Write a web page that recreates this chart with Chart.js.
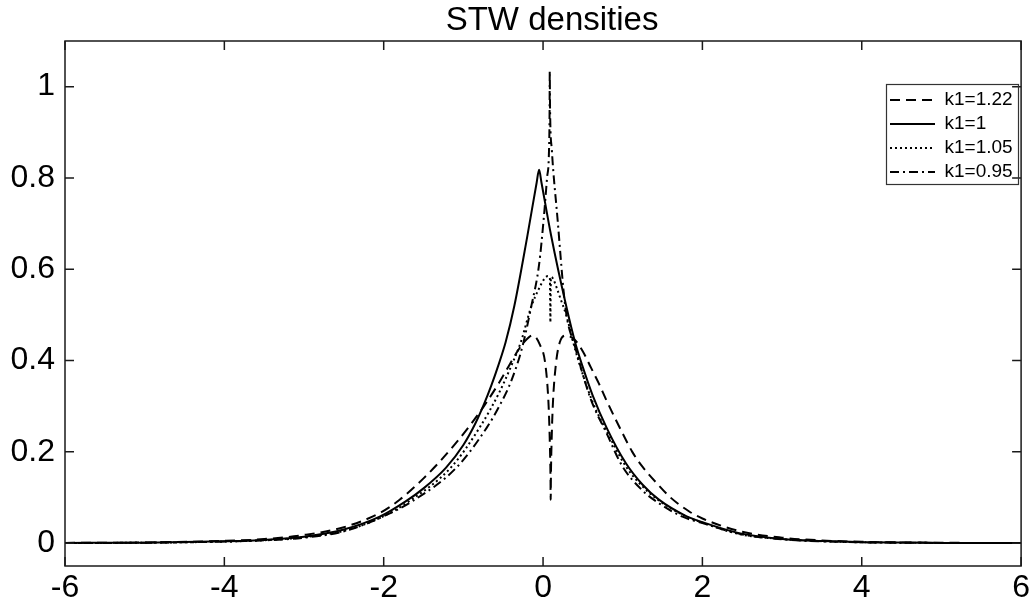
<!DOCTYPE html>
<html><head><meta charset="utf-8">
<script src="https://cdn.jsdelivr.net/npm/chart.js@4/dist/chart.umd.min.js"></script>
<style>html,body{margin:0;padding:0;background:#fff;}#wrap{width:1033px;height:607px;}</style>
</head><body><div id="wrap"><canvas id="c" width="1033" height="607"></canvas></div>
<script>
// ---- data ----
const chartTitle = 'STW densities';
const seriesLabels = ['k1=1.22', 'k1=1', 'k1=1.05', 'k1=0.95'];
const xTicks = [-6, -4, -2, 0, 2, 4, 6];
const yTicks = [0, 0.2, 0.4, 0.6, 0.8, 1];

// k1=1.22 (dashed)
const xDashed = [-6, -5, -4, -3.5, -3, -2.5, -2.05, -1.8, -1.5, -1.3, -1.1, -0.93, -0.75, -0.55, -0.45, -0.34, -0.24, -0.13, -0.04, 0.03, 0.07, 0.085, 0.093, 0.096, 0.099, 0.107, 0.122, 0.16, 0.21, 0.29, 0.4, 0.5, 0.6, 0.7, 0.79, 0.9, 1.0, 1.12, 1.25, 1.45, 1.6, 1.83, 2.0, 2.5, 3, 3.5, 4, 5, 6];
const yDashed = [0.0006, 0.0015, 0.005, 0.009, 0.018, 0.035, 0.066, 0.095, 0.142, 0.178, 0.218, 0.255, 0.298, 0.352, 0.382, 0.415, 0.44, 0.455, 0.435, 0.39, 0.30, 0.22, 0.15, 0.095, 0.15, 0.22, 0.30, 0.39, 0.44, 0.455, 0.445, 0.42, 0.385, 0.35, 0.315, 0.275, 0.24, 0.2, 0.167, 0.127, 0.1, 0.07, 0.054, 0.025, 0.012, 0.006, 0.003, 0.0009, 0.0003];

// k1=1 (solid)
const xSolid = [-6, -5, -4, -3.5, -3, -2.5, -2.05, -1.72, -1.5, -1.22, -1.0, -0.85, -0.74, -0.65, -0.56, -0.47, -0.36, -0.2, -0.08, -0.05, -0.02, 0.1, 0.29, 0.41, 0.5, 0.62, 0.8, 1.04, 1.25, 1.45, 1.79, 2.0, 2.46, 3, 3.5, 4, 5, 6];
const ySolid = [0.0005, 0.0012, 0.004, 0.007, 0.014, 0.03, 0.058, 0.092, 0.12, 0.165, 0.215, 0.262, 0.305, 0.345, 0.39, 0.44, 0.52, 0.67, 0.79, 0.818, 0.79, 0.675, 0.52, 0.435, 0.385, 0.325, 0.252, 0.175, 0.128, 0.096, 0.06, 0.046, 0.022, 0.009, 0.0045, 0.0022, 0.0006, 0.0002];

// k1=1.05 (dotted)
const xDotted = [-6, -5, -4, -3.5, -3, -2.5, -2.05, -1.68, -1.15, -0.79, -0.55, -0.4, -0.28, -0.15, -0.05, 0.02, 0.06, 0.086, 0.092, 0.098, 0.104, 0.13, 0.17, 0.22, 0.29, 0.41, 0.62, 0.8, 1.04, 1.25, 1.45, 1.79, 2.0, 2.46, 3, 3.5, 4, 5, 6];
const yDotted = [0.0004, 0.001, 0.0035, 0.0065, 0.013, 0.027, 0.055, 0.092, 0.167, 0.255, 0.33, 0.388, 0.44, 0.517, 0.558, 0.58, 0.585, 0.58, 0.484, 0.58, 0.583, 0.578, 0.56, 0.535, 0.50, 0.42, 0.31, 0.245, 0.168, 0.124, 0.094, 0.059, 0.045, 0.02, 0.009, 0.0043, 0.002, 0.0005, 0.0002];

// k1=0.95 (dash-dot)
const xDashDot = [-6, -5, -4, -3.5, -3, -2.5, -2.05, -1.64, -1.09, -0.71, -0.55, -0.4, -0.26, -0.15, -0.05, 0.01, 0.05, 0.075, 0.082, 0.084, 0.088, 0.11, 0.18, 0.28, 0.41, 0.6, 0.8, 0.99, 1.25, 1.45, 1.75, 2.0, 2.5, 3, 3.5, 4, 5, 6];
const yDashDot = [0.0004, 0.001, 0.0035, 0.0062, 0.012, 0.026, 0.055, 0.092, 0.165, 0.252, 0.30, 0.355, 0.43, 0.517, 0.61, 0.714, 0.80, 0.862, 0.95, 1.034, 0.95, 0.862, 0.714, 0.517, 0.425, 0.315, 0.24, 0.17, 0.115, 0.088, 0.058, 0.044, 0.019, 0.0085, 0.004, 0.0019, 0.0005, 0.0002];

const toPts = (xs, ys) => xs.map((x, i) => ({x: x, y: ys[i]}));

Chart.defaults.font.family = "'Liberation Sans', Arial, sans-serif";
Chart.defaults.color = '#000';

const framePlugin = {
  id: 'frame',
  afterLayout(chart) {
    const lg = chart.legend;
    if (lg) {
      const w = lg.width;
      lg.left = 885; lg.right = lg.left + w; lg.width = w;
      lg.top = 85.5; lg.bottom = chart.chartArea.bottom; lg.height = lg.bottom - lg.top;
    }
    const tb = chart.titleBlock;
    if (tb) { tb.left += 9; tb.right += 9; }
  },
  afterDraw(chart) {
    const {ctx, chartArea: a, scales} = chart;
    ctx.save();
    ctx.strokeStyle = '#1a1a1a';
    ctx.lineWidth = 1.5;
    ctx.setLineDash([]);
    ctx.strokeRect(a.left, a.top, a.right - a.left, a.bottom - a.top);
    ctx.beginPath();
    xTicks.forEach(v => {
      const px = scales.x.getPixelForValue(v);
      ctx.moveTo(px, a.bottom); ctx.lineTo(px, a.bottom - 9);
      ctx.moveTo(px, a.top); ctx.lineTo(px, a.top + 9);
    });
    yTicks.forEach(v => {
      const py = scales.y.getPixelForValue(v);
      ctx.moveTo(a.left, py); ctx.lineTo(a.left + 9, py);
      ctx.moveTo(a.right, py); ctx.lineTo(a.right - 9, py);
    });
    ctx.stroke();
    // legend frame
    ctx.lineWidth = 1.2;
    ctx.strokeStyle = '#333';
    ctx.strokeRect(886.5, 84.5, 132, 100);
    ctx.restore();
  }
};

const dashStyles = [[10, 6], [], [2, 3], [9, 4, 2, 4]];
const seriesPts = [toPts(xDashed, yDashed), toPts(xSolid, ySolid), toPts(xDotted, yDotted), toPts(xDashDot, yDashDot)];

new Chart(document.getElementById('c'), {
  type: 'line',
  data: {
    datasets: seriesLabels.map((lab, i) => ({
      label: lab,
      data: seriesPts[i],
      borderColor: '#000',
      backgroundColor: '#000',
      borderWidth: 2,
      borderDash: dashStyles[i],
      pointRadius: 0,
      fill: false,
      cubicInterpolationMode: 'monotone'
    }))
  },
  options: {
    responsive: false,
    animation: false,
    devicePixelRatio: 1,
    events: [],
    layout: {padding: {left: 0, right: 10, top: 0, bottom: 0}},
    plugins: {
      title: {display: true, fullSize: false, text: chartTitle, color: '#000', font: {size: 33, weight: 'normal'}, padding: {top: 1, bottom: 0.4}},
      legend: {
        display: true,
        position: 'chartArea',
        align: 'start',
        labels: {
          usePointStyle: true, pointStyle: 'line', pointStyleWidth: 45, padding: 5, color: '#000', font: {size: 19},
          generateLabels: chart => chart.data.datasets.map((ds, i) => ({
            text: ds.label, fillStyle: 'rgba(0,0,0,0)', strokeStyle: '#000', lineWidth: 2,
            lineDash: ds.borderDash, lineCap: 'butt', pointStyle: 'line', hidden: false, datasetIndex: i, fontColor: '#000'
          }))
        }
      },
      tooltip: {enabled: false}
    },
    scales: {
      x: {
        type: 'linear', min: -6, max: 6,
        afterBuildTicks: s => { s.ticks = xTicks.map(v => ({value: v})); },
        afterFit: s => { s.height = 41; },
        grid: {display: false, drawTicks: false},
        border: {display: false},
        ticks: {font: {size: 32}, color: '#000', padding: 3, maxRotation: 0, autoSkip: false, callback: v => String(v)}
      },
      y: {
        type: 'linear', min: -0.05, max: 1.1,
        afterBuildTicks: s => { s.ticks = yTicks.map(v => ({value: v})); },
        afterFit: s => { s.width = 65; },
        grid: {display: false, drawTicks: false},
        border: {display: false},
        ticks: {font: {size: 32}, color: '#000', padding: 10, autoSkip: false, callback: v => String(v)}
      }
    }
  },
  plugins: [framePlugin]
});
</script>
</body></html>
